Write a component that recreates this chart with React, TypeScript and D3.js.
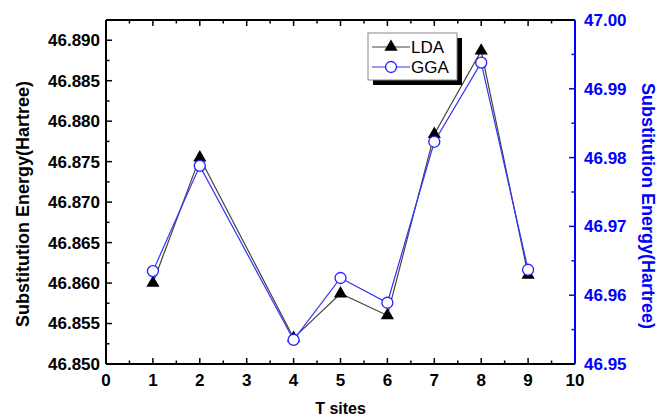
import React from "react";
import * as d3 from "d3";

// T site index for each computed point (site 3 is absent)
const sites = [1, 2, 4, 5, 6, 7, 8, 9];
const ldaEnergy = [46.8600, 46.8755, 46.8532, 46.8587, 46.8560, 46.8784, 46.8887, 46.8610];
const ggaEnergy = [46.9635, 46.9788, 46.9535, 46.9625, 46.9589, 46.9823, 46.9938, 46.9637];

const xTicks = [0, 1, 2, 3, 4, 5, 6, 7, 8, 9, 10];
const leftTicks = [46.85, 46.855, 46.86, 46.865, 46.87, 46.875, 46.88, 46.885, 46.89];
const rightTicks = [46.95, 46.96, 46.97, 46.98, 46.99, 47.0];

const W = 657;
const H = 419;
const m = { left: 106, right: 575, top: 20, bottom: 364 };
const FONT = "'Liberation Sans', Arial, sans-serif";
const BLUE = "#0000ff";

const App = () => {
  const x = d3.scaleLinear().domain([0, 10]).range([m.left, m.right]);
  const yL = d3.scaleLinear().domain([46.85, 46.8925]).range([m.bottom, m.top]);
  const yR = d3.scaleLinear().domain([46.95, 47.0]).range([m.bottom, m.top]);

  const xMinor = d3.range(0.5, 10, 1);
  const leftMinor = d3.range(46.8525, 46.8926, 0.005);
  const rightMinor = d3.range(46.955, 47.0, 0.01);

  const ldaLine = d3.line<number>().x((d, i) => x(sites[i])).y(d => yL(d));
  const ggaLine = d3.line<number>().x((d, i) => x(sites[i])).y(d => yR(d));

  const tri = d3.symbol().type(d3.symbolTriangle).size(75)();

  const lg = { x: 368, y: 33, w: 89, h: 47 };

  return (
    <svg width={W} height={H} style={{ position: "absolute", left: 0, top: 0, background: "#fff" }}
      fontFamily={FONT}>
      {/* bottom + top ticks */}
      {xTicks.map(t => (
        <g key={"x" + t}>
          <line x1={x(t)} x2={x(t)} y1={m.bottom} y2={m.bottom - 6} stroke="#000" strokeWidth={1.5} />
          <line x1={x(t)} x2={x(t)} y1={m.top} y2={m.top + 6} stroke="#000" strokeWidth={1.5} />
          <text x={x(t)} y={m.bottom + 22} textAnchor="middle" fontSize={17} fontWeight="bold">{t}</text>
        </g>
      ))}
      {xMinor.map(t => (
        <g key={"xm" + t}>
          <line x1={x(t)} x2={x(t)} y1={m.bottom} y2={m.bottom - 3.5} stroke="#000" strokeWidth={1.5} />
          <line x1={x(t)} x2={x(t)} y1={m.top} y2={m.top + 3.5} stroke="#000" strokeWidth={1.5} />
        </g>
      ))}
      {/* left axis */}
      {leftTicks.map(t => (
        <g key={"l" + t}>
          <line x1={m.left} x2={m.left + 6} y1={yL(t)} y2={yL(t)} stroke="#000" strokeWidth={1.5} />
          <text x={m.left - 6} y={yL(t)} dy="0.35em" textAnchor="end" fontSize={17} fontWeight="bold">
            {d3.format(".3f")(t)}
          </text>
        </g>
      ))}
      {leftMinor.map(t => (
        <line key={"lm" + t} x1={m.left} x2={m.left + 3.5} y1={yL(t)} y2={yL(t)} stroke="#000" strokeWidth={1.5} />
      ))}
      {/* right axis */}
      {rightTicks.map(t => (
        <g key={"r" + t}>
          <line x1={m.right} x2={m.right - 6} y1={yR(t)} y2={yR(t)} stroke={BLUE} strokeWidth={1.5} />
          <text x={m.right + 9} y={yR(t)} dy="0.35em" textAnchor="start" fontSize={17} fontWeight="bold" fill={BLUE}>
            {d3.format(".2f")(t)}
          </text>
        </g>
      ))}
      {rightMinor.map(t => (
        <line key={"rm" + t} x1={m.right} x2={m.right - 3.5} y1={yR(t)} y2={yR(t)} stroke={BLUE} strokeWidth={1.5} />
      ))}
      {/* frame */}
      <line x1={m.left} x2={m.right} y1={m.top} y2={m.top} stroke="#000" strokeWidth={2} />
      <line x1={m.left} x2={m.right} y1={m.bottom} y2={m.bottom} stroke="#000" strokeWidth={2} />
      <line x1={m.left} x2={m.left} y1={m.top} y2={m.bottom} stroke="#000" strokeWidth={2} />
      <line x1={m.right} x2={m.right} y1={m.top} y2={m.bottom} stroke={BLUE} strokeWidth={2} />

      {/* series */}
      <path d={ldaLine(ldaEnergy) || ""} fill="none" stroke="#444" strokeWidth={1.2} />
      <path d={ggaLine(ggaEnergy) || ""} fill="none" stroke="#3333ff" strokeWidth={1.2} />
      {ldaEnergy.map((v, i) => (
        <path key={"lt" + i} d={tri || ""} transform={`translate(${x(sites[i])},${yL(v)})`} fill="#000" />
      ))}
      {ggaEnergy.map((v, i) => (
        <circle key={"gc" + i} cx={x(sites[i])} cy={yR(v)} r={5.5} fill="#fff" stroke="#2222ff" strokeWidth={1.3} />
      ))}

      {/* legend */}
      <rect x={lg.x + 5} y={lg.y + 5} width={lg.w} height={lg.h} fill="#000" />
      <rect x={lg.x} y={lg.y} width={lg.w} height={lg.h} fill="#fff" stroke="#888" strokeWidth={1} />
      <line x1={lg.x + 4} x2={lg.x + 42} y1={lg.y + 14} y2={lg.y + 14} stroke="#444" strokeWidth={1.2} />
      <path d={tri || ""} transform={`translate(${lg.x + 23},${lg.y + 14})`} fill="#000" />
      <text x={lg.x + 43} y={lg.y + 14} dy="0.35em" fontSize={17}>LDA</text>
      <line x1={lg.x + 4} x2={lg.x + 42} y1={lg.y + 34} y2={lg.y + 34} stroke="#3333ff" strokeWidth={1.2} />
      <circle cx={lg.x + 23} cy={lg.y + 34} r={5.5} fill="#fff" stroke="#2222ff" strokeWidth={1.3} />
      <text x={lg.x + 43} y={lg.y + 34} dy="0.35em" fontSize={17}>GGA</text>

      {/* titles */}
      <text x={(m.left + m.right) / 2} y={414} textAnchor="middle" fontSize={16} fontWeight="bold">T sites</text>
      <text transform={`translate(23,204) rotate(-90)`} textAnchor="middle" dy="0.35em"
        fontSize={18} fontWeight="bold">Substitution Energy(Hartree)</text>
      <text transform={`translate(648,206) rotate(90)`} textAnchor="middle" dy="0.35em"
        fontSize={18} fontWeight="bold" fill={BLUE}>Substitution Energy(Hartree)</text>
    </svg>
  );
};

export default App;
